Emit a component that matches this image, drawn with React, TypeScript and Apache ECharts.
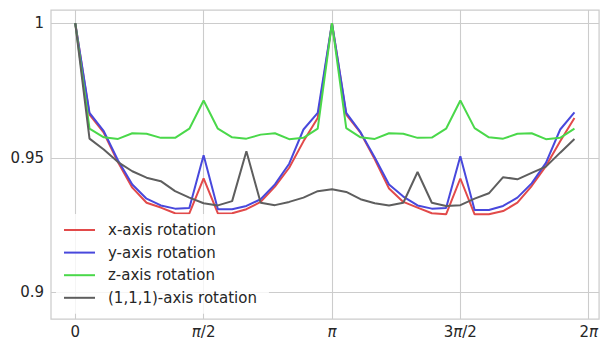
import React, { useEffect, useRef } from "react";
import * as echarts from "echarts";

const anglesDeg = [0, 10, 20, 30, 40, 50, 60, 70, 80, 90, 100, 110, 120, 130, 140, 150, 160, 170,
  180, 190, 200, 210, 220, 230, 240, 250, 260, 270, 280, 290, 300, 310, 320, 330, 340, 350];

const xRot = [1.0, 0.966, 0.9593, 0.9483, 0.9389, 0.9333, 0.9315, 0.9294, 0.9293, 0.9423, 0.9293, 0.9294,
  0.9309, 0.9336, 0.9393, 0.9463, 0.9561, 0.9648, 1.0, 0.966, 0.9593, 0.9494, 0.9386, 0.9336, 0.9315,
  0.9294, 0.929, 0.9423, 0.929, 0.929, 0.9302, 0.9333, 0.9395, 0.9469, 0.9561, 0.9648];

const yRot = [1.0, 0.9667, 0.9599, 0.949, 0.9401, 0.9348, 0.9323, 0.9311, 0.9313, 0.9509, 0.9309, 0.9309,
  0.9321, 0.9346, 0.9401, 0.9478, 0.9605, 0.9667, 1.0, 0.9667, 0.9595, 0.9501, 0.9401, 0.9356, 0.9323,
  0.9311, 0.9313, 0.9506, 0.9306, 0.9306, 0.9321, 0.9352, 0.9405, 0.9481, 0.9605, 0.9669];

const zRot = [1.0, 0.9608, 0.9576, 0.957, 0.9591, 0.9589, 0.9574, 0.9574, 0.9608, 0.9713, 0.9608, 0.9576,
  0.9571, 0.9586, 0.9591, 0.9569, 0.9574, 0.9608, 1.0, 0.961, 0.9576, 0.957, 0.9591, 0.9589, 0.9574,
  0.9575, 0.9608, 0.9713, 0.961, 0.9576, 0.9571, 0.9589, 0.9591, 0.9569, 0.9574, 0.9608];

const diagRot = [1.0, 0.9571, 0.9531, 0.9484, 0.945, 0.9426, 0.9413, 0.9376, 0.9352, 0.9331, 0.9323, 0.9339,
  0.9524, 0.9333, 0.9324, 0.9336, 0.9352, 0.9376, 0.9383, 0.9373, 0.9346, 0.9331, 0.9323, 0.9333, 0.9447,
  0.9333, 0.9321, 0.9324, 0.9348, 0.9368, 0.9428, 0.942, 0.9444, 0.9467, 0.9519, 0.957];

const seriesNames = ["x-axis rotation", "y-axis rotation", "z-axis rotation", "(1,1,1)-axis rotation"];
const seriesColors = ["#e24a4a", "#4848dc", "#4ad84a", "#5e5e5e"];

const xTickValues = [0, Math.PI / 2, Math.PI, (3 * Math.PI) / 2, 2 * Math.PI];
const xTickLabels = ["0", "{i|π}/2", "{i|π}", "3{i|π}/2", "2{i|π}"];
const yTickValues = [0.9, 0.95, 1.0];
const yTickLabels = ["0.9", "0.95", "1"];

const FONT = "DejaVu Sans";
const TXT = "#262626";
const FS = 15;

export default function App() {
  const ref = useRef<HTMLDivElement>(null);
  useEffect(() => {
    if (!ref.current) return;
    const chart = echarts.init(ref.current, null, { renderer: "svg" });
    const rad = anglesDeg.map((d) => (d * Math.PI) / 180);
    const all = [xRot, yRot, zRot, diagRot];
    chart.setOption({
      animation: false,
      backgroundColor: "#ffffff",
      textStyle: { fontFamily: FONT },
      grid: {
        left: 51, top: 10, width: 549, height: 310,
        show: true, borderColor: "#cccccc", borderWidth: 1.25, backgroundColor: "transparent",
      },
      xAxis: {
        type: "value",
        min: -0.2967,
        max: 6.41,
        axisLine: { show: false },
        axisTick: { show: false, customValues: xTickValues },
        splitLine: { show: true, lineStyle: { color: "#cccccc", width: 1.1 } },
        axisLabel: {
          customValues: xTickValues,
          margin: 5,
          color: TXT,
          fontSize: FS,
          fontFamily: FONT,
          formatter: (v: number) => {
            const idx = xTickValues.findIndex((t) => Math.abs(t - v) < 1e-6);
            return idx >= 0 ? xTickLabels[idx] : "";
          },
          rich: { i: { fontStyle: "italic", fontSize: FS, fontFamily: FONT, color: TXT } },
        },
      },
      yAxis: {
        type: "value",
        min: 0.8901,
        max: 1.0049,
        axisLine: { show: false },
        axisTick: { show: false, customValues: yTickValues },
        splitLine: { show: true, lineStyle: { color: "#cccccc", width: 1.1 } },
        axisLabel: {
          customValues: yTickValues,
          margin: 7,
          color: TXT,
          fontSize: FS,
          fontFamily: FONT,
          formatter: (v: number) => {
            const idx = yTickValues.findIndex((t) => Math.abs(t - v) < 1e-6);
            return idx >= 0 ? yTickLabels[idx] : "";
          },
        },
      },
      legend: {
        orient: "vertical",
        left: 56,
        top: 214,
        padding: [8, 12, 8, 8],
        backgroundColor: "rgba(255,255,255,0.8)",
        icon: "rect",
        itemWidth: 31,
        itemHeight: 2,
        itemGap: 6.6,
        selectedMode: false,
        textStyle: { color: TXT, fontSize: FS, fontFamily: FONT, lineHeight: 16, padding: [0, 0, 0, 8] },
        data: seriesNames,
      },
      series: all.map((vals, k) => ({
        name: seriesNames[k],
        type: "line",
        symbol: "none",
        silent: true,
        color: seriesColors[k],
        itemStyle: { color: seriesColors[k] },
        lineStyle: { color: seriesColors[k], width: 2 },
        data: vals.map((v, i) => [rad[i], v]),
        z: 2 + k,
      })),
    });
    return () => chart.dispose();
  }, []);
  return (
    <div
      ref={ref}
      style={{ position: "fixed", left: 0, top: 0, width: 601, height: 339 }}
    />
  );
}
